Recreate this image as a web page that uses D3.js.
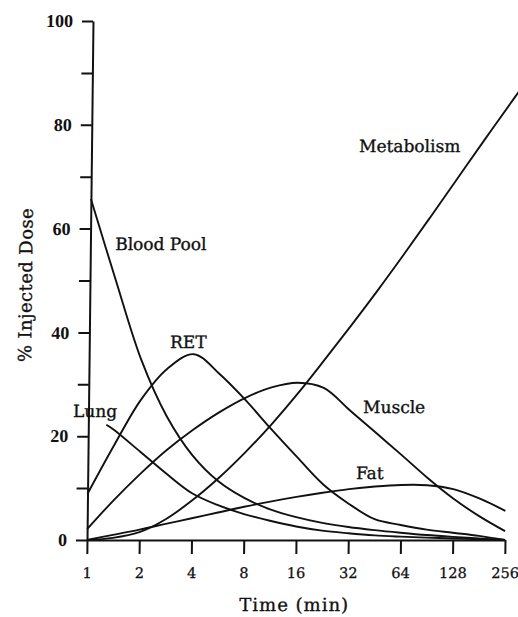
<!DOCTYPE html>
<html>
<head>
<meta charset="utf-8">
<script src="https://cdn.jsdelivr.net/npm/d3@7"></script>
<style>
  body { margin: 0; background: #fff; }
  svg { display: block; }
  .curve { fill: none; stroke: #111; stroke-width: 1.9; }
  .axis path, .axis line { stroke: #111; stroke-width: 2; }
  .axis text { fill: #111; }
  .lbl { font-family: "DejaVu Serif", serif; font-size: 17px; fill: #111; stroke: #111; stroke-width: 0.35; }
</style>
</head>
<body>
<div id="chart"></div>
<script>
// sample times (min), every half octave, and % injected dose
var times = [1, 1.41, 2, 2.83, 4, 5.66, 8, 11.3, 16, 22.6, 32, 45.3, 64, 90.5, 128, 181, 256];
var lungTimes = [1.27, 1.41, 2, 2.83, 4, 5.66, 8, 11.3, 16, 22.6, 32, 45.3, 64, 90.5, 128, 181, 256];
var metabolismTimes = [1, 1.41, 2, 2.83, 4, 5.66, 8, 11.3, 16, 22.6, 32, 45.3, 64, 90.5, 128, 181, 256, 300];

var bloodPool  = [65.7, 50.0, 34.7, 23.8, 16.3, 11.3, 8.1, 5.9, 4.4, 3.3, 2.5, 1.9, 1.4, 0.95, 0.6, 0.3, 0];
var lung       = [22.2, 21.2, 17.0, 12.8, 9.0, 6.7, 5.0, 3.7, 2.6, 1.8, 1.3, 0.9, 0.65, 0.45, 0.3, 0.15, 0];
var ret        = [8.9, 18.2, 27.0, 33.0, 35.8, 32.0, 27.0, 21.4, 16.0, 10.8, 7.0, 4.0, 2.9, 2.0, 1.4, 0.8, 0];
var muscle     = [2.1, 7.6, 12.7, 17.3, 21.2, 24.6, 27.4, 29.4, 30.3, 29.3, 25.0, 20.7, 16.4, 12.0, 8.0, 4.6, 1.7];
var fat        = [0, 1.0, 2.0, 3.1, 4.2, 5.3, 6.4, 7.4, 8.3, 9.1, 9.8, 10.3, 10.6, 10.55, 9.8, 8.0, 5.6];
var metabolism = [0, 0.4, 1.5, 4.0, 7.6, 11.9, 16.8, 22.2, 28.2, 34.6, 41.2, 48.0, 55.0, 62.2, 69.5, 76.8, 84.0, 87.3];

var xTicks = [1, 2, 4, 8, 16, 32, 64, 128, 256];
var yTicks = [0, 10, 20, 30, 40, 50, 60, 70, 80, 90, 100];

// curve labels, anchored in data units (time, dose)
var labelNames  = ["Blood Pool", "RET", "Lung", "Muscle", "Fat", "Metabolism"];
var labelTimes  = [1.39, 2.92, 0.815, 38.2, 35.1, 34.8];
var labelValues = [55.9, 37.0, 23.7, 24.5, 11.75, 74.8];

var width = 518, height = 617;

var x = d3.scaleLog().base(2).domain([1, 256]).range([87, 505]);
var y = d3.scaleLinear().domain([0, 100]).range([540, 21]);

var svg = d3.select("#chart").append("svg")
    .attr("width", width)
    .attr("height", height);

// the scanned figure leans slightly to the right
var g = svg.append("g")
    .attr("transform", "translate(0,540) skewX(-0.662) translate(0,-540)");

var yAxis = g.append("g")
    .attr("class", "axis")
    .attr("transform", "translate(87,0)")
    .call(d3.axisLeft(y)
        .tickValues(yTicks)
        .tickSize(11)
        .tickSizeOuter(0)
        .tickPadding(9)
        .tickFormat(function(d) { return d % 20 === 0 ? d : ""; }));
yAxis.selectAll("text")
    .style("font-family", "'Liberation Serif', serif")
    .style("font-weight", "bold")
    .style("font-size", "18px");

var xAxis = g.append("g")
    .attr("class", "axis")
    .attr("transform", "translate(0,540)")
    .call(d3.axisBottom(x)
        .tickValues(xTicks)
        .tickSize(14)
        .tickSizeOuter(0)
        .tickPadding(14)
        .tickFormat(d3.format("d")));
xAxis.selectAll("text")
    .style("font-family", "'DejaVu Serif', serif")
    .style("font-size", "14.5px")
    .style("stroke", "#111")
    .style("stroke-width", "0.3");

var series = [
    { t: times, v: bloodPool },
    { t: lungTimes, v: lung },
    { t: times, v: ret },
    { t: times, v: muscle },
    { t: times, v: fat },
    { t: metabolismTimes, v: metabolism }
];

var line = d3.line()
    .x(function(d) { return x(d[0]); })
    .y(function(d) { return y(d[1]); })
    .curve(d3.curveCatmullRom.alpha(0.5));

g.selectAll(".curve")
    .data(series)
    .enter().append("path")
    .attr("class", "curve")
    .attr("d", function(s) { return line(d3.zip(s.t, s.v)); });

g.selectAll(".lbl")
    .data(labelNames)
    .enter().append("text")
    .attr("class", "lbl")
    .attr("x", function(d, i) { return x(labelTimes[i]); })
    .attr("y", function(d, i) { return y(labelValues[i]); })
    .text(function(d) { return d; });

g.append("text")
    .attr("class", "lbl")
    .attr("text-anchor", "middle")
    .attr("x", 295)
    .attr("y", 611)
    .style("font-size", "18px")
    .style("letter-spacing", "1px")
    .text("Time (min)");

g.append("text")
    .attr("class", "lbl")
    .attr("text-anchor", "middle")
    .attr("transform", "translate(29,285) rotate(-90)")
    .style("font-size", "18px")
    .style("letter-spacing", "0.4px")
    .text("% Injected Dose");
</script>
</body>
</html>
